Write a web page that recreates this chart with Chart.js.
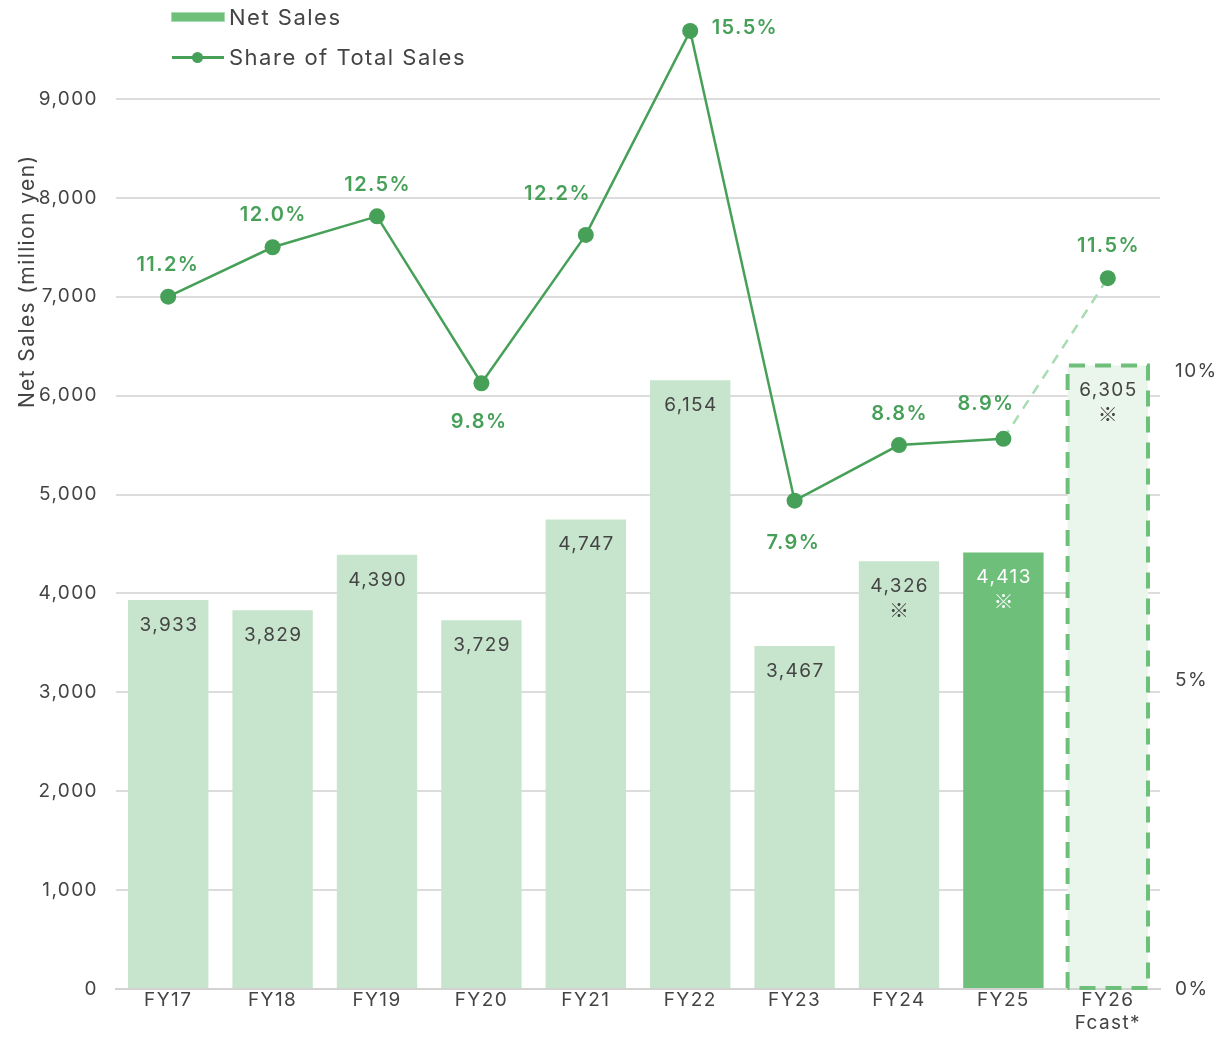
<!DOCTYPE html>
<html>
<head>
<meta charset="utf-8">
<script src="https://cdn.jsdelivr.net/npm/chart.js@4/dist/chart.umd.min.js"></script>
<style>
  html, body { margin: 0; padding: 0; background: #fff; }
  #wrap { position: relative; width: 1220px; height: 1038px; }
  #legend { position: absolute; left: 172px; top: 0; font-family: Inter, "Noto Sans", sans-serif; font-size: 22px; letter-spacing: 1.5px; color: #444; }
  .item { position: absolute; left: 0; white-space: nowrap; height: 30px; line-height: 30px; }
  .sw { position: absolute; left: 0; width: 52px; }
  .txt { position: absolute; left: 57px; top: 0; }
</style>
</head>
<body>
<div id="wrap">
  <canvas id="c" width="1220" height="1038"></canvas>
  <div id="legend">
    <div class="item" style="top:2px">
      <div class="sw" style="top:11px;height:8px;background:#6dbf7a;box-shadow:0 0 0 1px #a9dbb1;"></div>
      <div class="txt">Net Sales</div>
    </div>
    <div class="item" style="top:42px">
      <div class="sw" style="top:14px;height:3px;background:#46a058;"></div>
      <div class="sw" style="left:20px;top:10px;width:11px;height:11px;border-radius:50%;background:#46a058;"></div>
      <div class="txt" style="left:57px">Share of Total Sales</div>
    </div>
  </div>
</div>
<script>
// Fiscal years and figures
const categories = ['FY17', 'FY18', 'FY19', 'FY20', 'FY21', 'FY22', 'FY23', 'FY24', 'FY25', 'FY26'];
const subLabels = ['', '', '', '', '', '', '', '', '', 'Fcast*'];
const netSales = [3933, 3829, 4390, 3729, 4747, 6154, 3467, 4326, 4413, 6305];
const shareOfSales = [11.2, 12.0, 12.5, 9.8, 12.2, 15.5, 7.9, 8.8, 8.9, 11.5];
const noteMarks = [false, false, false, false, false, false, false, true, true, true];
const salesTicks = [0, 1000, 2000, 3000, 4000, 5000, 6000, 7000, 8000, 9000];
const shareTicks = [0, 5, 10];
const salesTitle = 'Net Sales (million yen)';

const FONT = 'Inter, "Noto Sans", sans-serif';
const MARK_FONT = '"Noto Sans CJK JP", sans-serif';
const LIGHT = '#c7e5cc', DARK = '#6dbf7a', FORECAST = '#eaf5eb';
const LINE = '#46a058', LINE_FADED = '#a9dcb2';
const TEXT = '#444';

const barColors = categories.map((_, i) => i === 8 ? DARK : (i === 9 ? FORECAST : LIGHT));
// where each percentage label sits relative to its point
const shareLabelShift = [
  [-1, -32], [0, -32], [0, -31], [-3, 39], [-29, -41],
  [54, -3], [-2, 42], [0, -31], [-18, -35], [0, -32]
];

// slightly wider text throughout the canvas
const spacingPlugin = {
  id: 'textSpacing',
  beforeLayout(chart) { chart.ctx.letterSpacing = '1.4px'; },
  beforeDraw(chart) { chart.ctx.letterSpacing = '1.4px'; }
};

// vertical axis title, set towards the upper part of the axis
const axisTitlePlugin = {
  id: 'salesTitle',
  afterDraw(chart) {
    const ctx = chart.ctx;
    ctx.save();
    ctx.letterSpacing = '1.4px';
    ctx.translate(28, 282);
    ctx.rotate(-Math.PI / 2);
    ctx.font = '21px ' + FONT;
    ctx.fillStyle = TEXT;
    ctx.textAlign = 'center';
    ctx.textBaseline = 'middle';
    ctx.fillText(salesTitle, 0.7, 0);
    ctx.restore();
  }
};

const labelPlugin = {
  id: 'valueLabels',
  afterDatasetsDraw(chart) {
    const ctx = chart.ctx;
    const bars = chart.getDatasetMeta(1).data;
    const pts = chart.getDatasetMeta(0).data;

    // dashed outline of the forecast bar
    const fb = bars[9];
    ctx.save();
    ctx.strokeStyle = DARK;
    ctx.lineWidth = 4;
    ctx.setLineDash([16, 10]);
    const l = fb.x - fb.width / 2, r = fb.x + fb.width / 2;
    ctx.beginPath();
    ctx.moveTo(l, fb.base);
    ctx.lineTo(l, fb.y);
    ctx.lineTo(r, fb.y);
    ctx.lineTo(r, fb.base);
    ctx.lineTo(l, fb.base);
    ctx.stroke();
    ctx.restore();

    ctx.save();
    ctx.letterSpacing = '1.4px';
    ctx.textAlign = 'center';
    ctx.textBaseline = 'middle';
    bars.forEach((b, i) => {
      ctx.fillStyle = i === 8 ? '#fff' : TEXT;
      ctx.font = '19px ' + FONT;
      ctx.fillText(netSales[i].toLocaleString('en-US'), b.x + 0.7, b.y + 25);
      if (noteMarks[i]) {
        ctx.font = '20px ' + MARK_FONT;
        ctx.fillText('※', b.x + 0.7, b.y + 49);
      }
    });
    ctx.fillStyle = LINE;
    ctx.font = '600 20px ' + FONT;
    pts.forEach((p, i) => {
      const s = shareLabelShift[i];
      ctx.fillText(shareOfSales[i].toFixed(1) + '%', p.x + s[0] + 0.7, p.y + s[1]);
    });
    ctx.restore();
  }
};

new Chart(document.getElementById('c'), {
  data: {
    labels: categories,
    datasets: [
      {
        type: 'line',
        label: 'Share of Total Sales',
        data: shareOfSales,
        yAxisID: 'share',
        order: 0,
        borderColor: LINE,
        backgroundColor: LINE,
        borderWidth: 2.5,
        pointRadius: 8,
        pointHoverRadius: 8,
        pointBackgroundColor: LINE,
        pointBorderWidth: 0,
        tension: 0,
        clip: false,
        segment: {
          borderColor: c => c.p0DataIndex === 8 ? LINE_FADED : undefined,
          borderDash: c => c.p0DataIndex === 8 ? [10, 8] : undefined
        }
      },
      {
        type: 'bar',
        label: 'Net Sales',
        data: netSales,
        yAxisID: 'sales',
        order: 1,
        backgroundColor: barColors,
        borderWidth: 0,
        barPercentage: 0.77,
        categoryPercentage: 1.0
      }
    ]
  },
  options: {
    responsive: false,
    animation: false,
    events: [],
    layout: { autoPadding: false, padding: 0 },
    plugins: { legend: { display: false }, tooltip: { enabled: false } },
    scales: {
      x: {
        grid: { display: false, drawTicks: false },
        border: { display: true, color: '#d3d3d3', width: 2 },
        ticks: {
          color: TEXT,
          font: { family: FONT, size: 19 },
          padding: 0,
          maxRotation: 0,
          callback: (v, i) => subLabels[i] ? [categories[i], subLabels[i]] : categories[i]
        },
        afterFit: s => { s.height = 49; s.paddingLeft = 0; s.paddingRight = 0; }
      },
      sales: {
        position: 'left',
        min: 0,
        max: 10000,
        afterBuildTicks: s => { s.ticks = salesTicks.map(v => ({ value: v })); },
        grid: {
          color: c => (c.tick && c.tick.value > 0) ? '#dcdcdc' : 'rgba(0,0,0,0)',
          lineWidth: 2,
          drawTicks: false
        },
        border: { display: false },
        ticks: {
          color: TEXT,
          font: { family: FONT, size: 19 },
          padding: 18,
          callback: v => v.toLocaleString('en-US')
        },
        title: { display: false },
        afterFit: s => { s.width = 116; s.paddingTop = 0; s.paddingBottom = 0; }
      },
      share: {
        position: 'right',
        min: 0,
        max: 16,
        afterBuildTicks: s => { s.ticks = shareTicks.map(v => ({ value: v })); },
        grid: { display: false, drawTicks: false },
        border: { display: false },
        ticks: {
          color: TEXT,
          font: { family: FONT, size: 19 },
          padding: 15,
          callback: v => v + '%'
        },
        afterFit: s => { s.width = 60; s.paddingTop = 0; s.paddingBottom = 0; }
      }
    }
  },
  plugins: [spacingPlugin, axisTitlePlugin, labelPlugin]
});
</script>
</body>
</html>
